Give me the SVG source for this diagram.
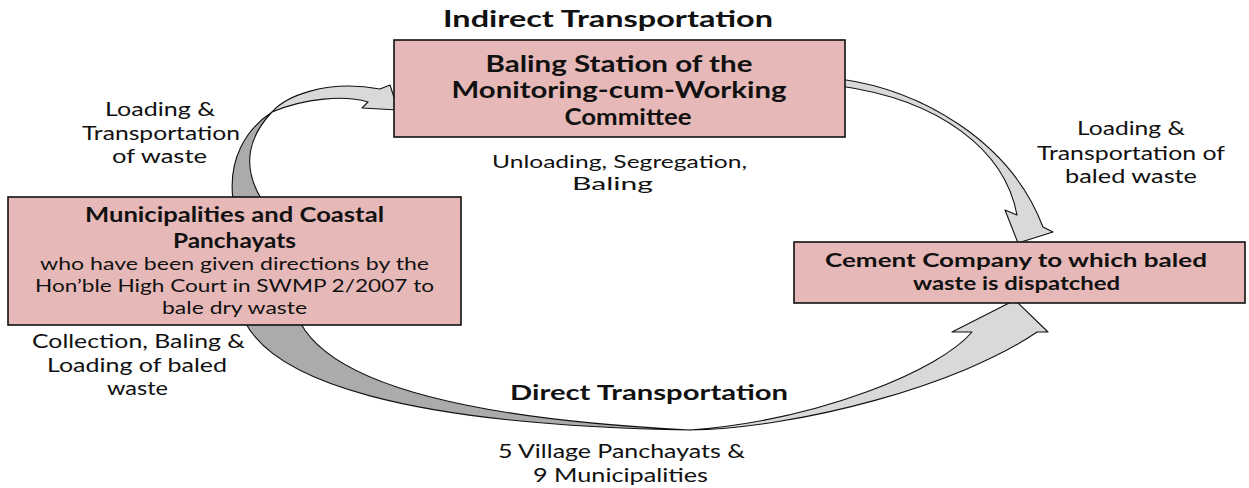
<svg xmlns="http://www.w3.org/2000/svg" width="1249" height="488" viewBox="0 0 1249 488">
<style>
text{font-family:Lato,"Open Sans","DejaVu Sans",sans-serif;fill:#111;text-anchor:middle}
.b{font-weight:bold}
.box{fill:#e6b9b8;stroke:#111;stroke-width:1.6}
.dark{fill:#ababab;stroke:#111;stroke-width:1.1;stroke-linejoin:round}
.light{fill:#d9d9d9;stroke:#111;stroke-width:1.1;stroke-linejoin:round}
</style>
<g id="connectors">
  <g id="arrow-indirect-in">
    <path class="dark" d="M233,200 C228,160 245,130 272,112 C250,135 240,165 262,200 Z"/>
    <path class="light" d="M272,112 C285,97 325,79 380,89 L390,85 L398,110 L362,108 L368,102 C345,95 305,98 272,112 Z"/>
  </g>
  <g id="arrow-indirect-out">
    <path class="light" d="M840,79 C920,90 1010,140 1043,227 L1053,232 L1018,243 L1005,210 L1017,215 C1005,150 940,100 840,86 Z"/>
  </g>
  <g id="arrow-direct">
    <path class="dark" d="M245,322 C275,380 400,425 690,430 C450,418 330,380 300,322 Z"/>
    <path class="light" d="M690,430 C800,428 960,385 1037,332 L1048,332 L1015,300 L952,332 L972,332 C940,370 820,420 690,430 Z"/>
  </g>
</g>
<g id="node-baling">
  <rect class="box" x="394" y="40" width="451" height="97"/>
  <text class="b" font-size="22" x="619" y="72" textLength="267" lengthAdjust="spacingAndGlyphs">Baling Station of the</text>
  <text class="b" font-size="22" x="619" y="98" textLength="335" lengthAdjust="spacingAndGlyphs">Monitoring-cum-Working</text>
  <text class="b" font-size="22" x="628" y="125" textLength="127" lengthAdjust="spacingAndGlyphs">Committee</text>
</g>
<g id="node-municipalities">
  <rect class="box" x="8" y="197" width="453" height="128"/>
  <text class="b" font-size="20" x="234.5" y="222" textLength="299" lengthAdjust="spacingAndGlyphs">Municipalities and Coastal</text>
  <text class="b" font-size="20" x="234.5" y="248" textLength="123" lengthAdjust="spacingAndGlyphs">Panchayats</text>
  <text font-size="18" x="234.5" y="270" textLength="389" lengthAdjust="spacingAndGlyphs">who have been given directions by the</text>
  <text font-size="18" x="234.5" y="292" textLength="399" lengthAdjust="spacingAndGlyphs">Hon’ble High Court in SWMP 2/2007 to</text>
  <text font-size="18" x="234.5" y="314" textLength="145" lengthAdjust="spacingAndGlyphs">bale dry waste</text>
</g>
<g id="node-cement">
  <rect class="box" x="794" y="242" width="451" height="61"/>
  <text class="b" font-size="19.5" x="1016" y="267" textLength="382" lengthAdjust="spacingAndGlyphs">Cement Company to which baled</text>
  <text class="b" font-size="19.5" x="1016.5" y="290" textLength="207" lengthAdjust="spacingAndGlyphs">waste is dispatched</text>
</g>
<g id="labels">
  <text class="b" font-size="22" x="608" y="27" textLength="330" lengthAdjust="spacingAndGlyphs">Indirect Transportation</text>
  <text font-size="18" x="619.5" y="168" textLength="255" lengthAdjust="spacingAndGlyphs">Unloading, Segregation,</text>
  <text font-size="18" x="612.5" y="190" textLength="81" lengthAdjust="spacingAndGlyphs">Baling</text>
  <text font-size="18.5" x="160" y="116" textLength="110" lengthAdjust="spacingAndGlyphs">Loading &amp;</text>
  <text font-size="18.5" x="161" y="140" textLength="158" lengthAdjust="spacingAndGlyphs">Transportation</text>
  <text font-size="18.5" x="159.5" y="163" textLength="95" lengthAdjust="spacingAndGlyphs">of waste</text>
  <text font-size="18.5" x="1131" y="135" textLength="108" lengthAdjust="spacingAndGlyphs">Loading &amp;</text>
  <text font-size="18.5" x="1131" y="160" textLength="188" lengthAdjust="spacingAndGlyphs">Transportation of</text>
  <text font-size="18.5" x="1131" y="183" textLength="132" lengthAdjust="spacingAndGlyphs">baled waste</text>
  <text font-size="18.5" x="138.5" y="348" textLength="213" lengthAdjust="spacingAndGlyphs">Collection, Baling &amp;</text>
  <text font-size="18.5" x="137" y="372" textLength="180" lengthAdjust="spacingAndGlyphs">Loading of baled</text>
  <text font-size="18.5" x="137.5" y="395" textLength="61" lengthAdjust="spacingAndGlyphs">waste</text>
  <text class="b" font-size="21" x="649" y="400" textLength="278" lengthAdjust="spacingAndGlyphs">Direct Transportation</text>
  <text font-size="18.5" x="621.5" y="458" textLength="247" lengthAdjust="spacingAndGlyphs">5 Village Panchayats &amp;</text>
  <text font-size="18.5" x="620.5" y="482" textLength="175" lengthAdjust="spacingAndGlyphs">9 Municipalities</text>
</g>
</svg>
